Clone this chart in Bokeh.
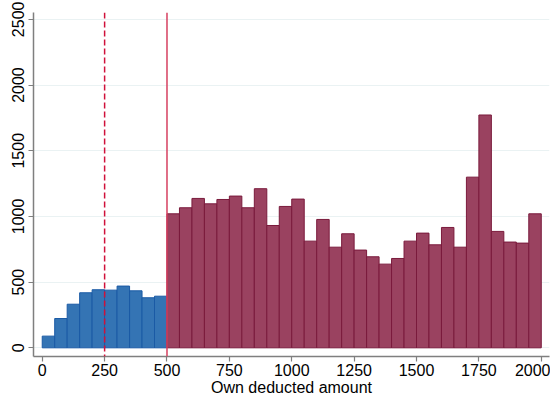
#histogram of own deducted amount
from bokeh.plotting import figure
from bokeh.models import Range1d, FixedTicker, Span
from bokeh.embed import file_html
from bokeh.resources import INLINE

#data: bins of width 50
edges_low = list(range(0, 2000, 50))
counts = [89, 223, 332, 419, 442, 439, 470, 434, 381, 393,
          1020, 1066, 1137, 1096, 1129, 1155, 1066, 1211, 931, 1076,
          1132, 812, 977, 766, 868, 744, 693, 637, 680, 812,
          873, 784, 916, 766, 1299, 1772, 886, 805, 797, 1020]
cutoff = 500
median_line = 250
x_ticks = [0, 250, 500, 750, 1000, 1250, 1500, 1750, 2000]
y_ticks = [0, 500, 1000, 1500, 2000, 2500]

low_l = [e for e in edges_low if e < cutoff]
low_c = [c for e, c in zip(edges_low, counts) if e < cutoff]
high_l = [e for e in edges_low if e >= cutoff]
high_c = [c for e, c in zip(edges_low, counts) if e >= cutoff]

p = figure(width=550, height=400, output_backend="svg", toolbar_location=None,
           x_range=Range1d(-35, 2033), y_range=Range1d(-66, 2552))
p.min_border_top = 12
p.min_border_right = 1
p.min_border_left = 33
p.min_border_bottom = 44
p.outline_line_color = None
p.background_fill_color = "white"

#grid
p.xgrid.grid_line_color = None
p.ygrid.ticker = FixedTicker(ticks=y_ticks)
p.ygrid.grid_line_color = "#eaf2f3"
p.ygrid.grid_line_width = 1

#bars
p.quad(left=low_l, right=[e + 50 for e in low_l], bottom=0, top=low_c,
       fill_color="#3474b4", line_color="#1a5aa5", line_width=1)
p.quad(left=high_l, right=[e + 50 for e in high_l], bottom=0, top=high_c,
       fill_color="#9a4260", line_color="#7a1a3c", line_width=1)

#reference lines
p.add_layout(Span(location=median_line, dimension="height", line_color="#d0103a",
                  line_width=1.5, line_dash="6 3"))
p.add_layout(Span(location=cutoff, dimension="height", line_color="#d64060",
                  line_width=1.5))

#axes
for ax in (p.xaxis[0], p.yaxis[0]):
    ax.axis_line_color = "#7f7f7f"
    ax.axis_line_width = 1.5
    ax.major_tick_line_color = "#7f7f7f"
    ax.major_tick_line_width = 1.2
    ax.major_tick_out = 5
    ax.major_tick_in = 0
    ax.minor_tick_line_color = None
    ax.major_label_text_font = "Liberation Sans"
    ax.major_label_text_font_size = "16px"
    ax.major_label_text_color = "black"

p.xaxis.ticker = FixedTicker(ticks=x_ticks)
p.yaxis.ticker = FixedTicker(ticks=y_ticks)
p.yaxis.major_label_orientation = "vertical"
p.xaxis.major_label_standoff = 2
p.yaxis.major_label_standoff = 4
p.xaxis.axis_label = "Own deducted amount"
p.xaxis.axis_label_text_font = "Liberation Sans"
p.xaxis.axis_label_text_font_style = "normal"
p.xaxis.axis_label_text_font_size = "16px"
p.xaxis.axis_label_text_color = "black"
p.xaxis.axis_label_standoff = 0

open("out.html", "w").write(file_html(p, INLINE))
